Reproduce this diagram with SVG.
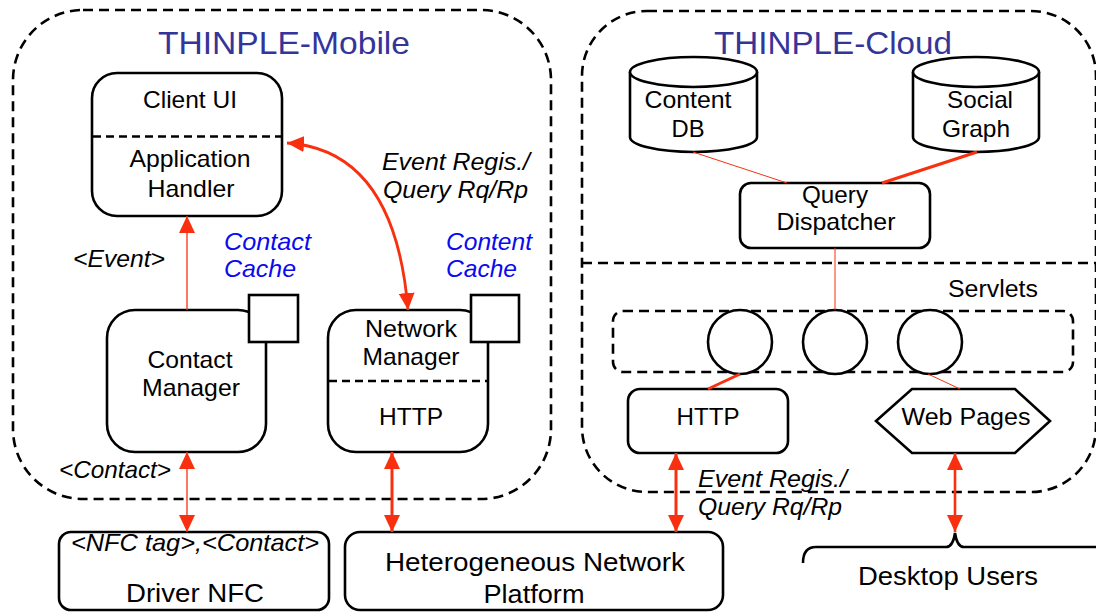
<svg xmlns="http://www.w3.org/2000/svg" width="1096" height="614" viewBox="0 0 1096 614">
<style>
text{font-family:"Liberation Sans",Arial,sans-serif;fill:#000}
.t{font-size:24px;text-anchor:middle}
.b{font-size:26px;text-anchor:middle}
.i{font-size:24px;font-style:italic}
.c{font-size:24px;font-style:italic;fill:#0a0aee}
.title{font-size:32px;fill:#353599}
.box{fill:#fff;stroke:#000;stroke-width:2.6}
.cont{fill:none;stroke:#000;stroke-width:2.6;stroke-dasharray:10 6}
.div{fill:none;stroke:#000;stroke-width:2.6;stroke-dasharray:8 5}
.r{fill:none;stroke:#f8300f}
</style>
<defs>
<marker id="ah" markerUnits="userSpaceOnUse" markerWidth="17" markerHeight="16" refX="17" refY="8" orient="auto-start-reverse" viewBox="0 0 17 16">
<path d="M0,0 L17,8 L0,16 z" fill="#f8300f"/>
</marker>
</defs>

<g id="containers">
<rect class="cont" x="13" y="10" width="538" height="489" rx="70"/>
<rect class="cont" x="582" y="11" width="514" height="481" rx="65"/>
<line class="cont" x1="582" y1="263" x2="1096" y2="263"/>
<text class="title" x="158" y="54" textLength="252" lengthAdjust="spacingAndGlyphs">THINPLE-Mobile</text>
<text class="title" x="714" y="54" textLength="238" lengthAdjust="spacingAndGlyphs">THINPLE-Cloud</text>
</g>

<g id="client-ui">
<rect class="box" x="92" y="73" width="190" height="143" rx="25"/>
<line class="div" x1="93" y1="136.5" x2="281" y2="136.5"/>
<text class="t" x="190" y="108" textLength="94" lengthAdjust="spacingAndGlyphs">Client UI</text>
<text class="t" x="190" y="167" textLength="121" lengthAdjust="spacingAndGlyphs">Application</text>
<text class="t" x="191" y="197" textLength="87" lengthAdjust="spacingAndGlyphs">Handler</text>
</g>

<g id="contact-manager">
<rect class="box" x="107" y="310" width="159" height="142" rx="28"/>
<rect class="box" x="249" y="295" width="49" height="47"/>
<text class="t" x="190" y="368" textLength="85" lengthAdjust="spacingAndGlyphs">Contact</text>
<text class="t" x="191" y="396" textLength="98" lengthAdjust="spacingAndGlyphs">Manager</text>
</g>

<g id="network-manager">
<rect class="box" x="328" y="310" width="160" height="142" rx="28"/>
<rect class="box" x="471" y="295" width="48" height="47"/>
<line class="div" x1="329" y1="381" x2="487" y2="381"/>
<text class="t" x="411" y="337" textLength="92" lengthAdjust="spacingAndGlyphs">Network</text>
<text class="t" x="411" y="365" textLength="97" lengthAdjust="spacingAndGlyphs">Manager</text>
<text class="t" x="411" y="425" textLength="64" lengthAdjust="spacingAndGlyphs">HTTP</text>
</g>

<g id="labels-mobile">
<text class="c" x="224" y="250" textLength="87" lengthAdjust="spacingAndGlyphs">Contact</text>
<text class="c" x="224" y="277" textLength="72" lengthAdjust="spacingAndGlyphs">Cache</text>
<text class="c" x="446" y="250" textLength="86" lengthAdjust="spacingAndGlyphs">Content</text>
<text class="c" x="446" y="277" textLength="71" lengthAdjust="spacingAndGlyphs">Cache</text>
<text class="i" x="73" y="267" textLength="92" lengthAdjust="spacingAndGlyphs">&lt;Event&gt;</text>
<text class="i" x="382" y="170" textLength="148" lengthAdjust="spacingAndGlyphs">Event Regis./</text>
<text class="i" x="383" y="198" textLength="145" lengthAdjust="spacingAndGlyphs">Query Rq/Rp</text>
<text class="i" x="59" y="478" textLength="112" lengthAdjust="spacingAndGlyphs">&lt;Contact&gt;</text>
</g>

<g id="content-db">
<path class="box" d="M630,72 V137 A63.5,15 0 0 0 757,137 V72"/>
<ellipse class="box" cx="693.5" cy="72" rx="63.5" ry="15"/>
<text class="t" x="688" y="108" textLength="87" lengthAdjust="spacingAndGlyphs">Content</text>
<text class="t" x="688" y="137" textLength="33" lengthAdjust="spacingAndGlyphs">DB</text>
</g>

<g id="social-graph">
<path class="box" d="M913,72 V137 A63,15 0 0 0 1039,137 V72"/>
<ellipse class="box" cx="976" cy="72" rx="63" ry="15"/>
<text class="t" x="980" y="108" textLength="66" lengthAdjust="spacingAndGlyphs">Social</text>
<text class="t" x="976" y="137" textLength="68" lengthAdjust="spacingAndGlyphs">Graph</text>
</g>

<g id="query-dispatcher">
<rect class="box" x="740" y="183" width="190" height="65" rx="11"/>
<text class="t" x="835" y="203" textLength="66" lengthAdjust="spacingAndGlyphs">Query</text>
<text class="t" x="836" y="230" textLength="119" lengthAdjust="spacingAndGlyphs">Dispatcher</text>
</g>

<g id="servlets">
<rect class="cont" x="613" y="311" width="460" height="61" rx="10"/>
<circle class="box" cx="740" cy="342" r="32"/>
<circle class="box" cx="835" cy="342" r="32"/>
<circle class="box" cx="930" cy="342" r="32"/>
<text x="948" y="297" font-size="23" textLength="90" lengthAdjust="spacingAndGlyphs">Servlets</text>
</g>

<g id="http-cloud">
<rect class="box" x="628" y="389" width="160" height="64" rx="12"/>
<text class="t" x="708" y="425" textLength="63" lengthAdjust="spacingAndGlyphs">HTTP</text>
</g>

<g id="web-pages">
<polygon class="box" points="876,421 912,389 1015,389 1050,421 1015,453 912,453"/>
<text class="t" x="966" y="425" textLength="129" lengthAdjust="spacingAndGlyphs">Web Pages</text>
</g>

<g id="driver-nfc">
<rect class="box" x="59" y="532" width="270" height="78" rx="12"/>
<text class="i" x="195" y="551" text-anchor="middle" textLength="248" lengthAdjust="spacingAndGlyphs">&lt;NFC tag&gt;,&lt;Contact&gt;</text>
<text class="b" x="195" y="602" textLength="138" lengthAdjust="spacingAndGlyphs">Driver NFC</text>
</g>

<g id="het-network">
<rect class="box" x="345" y="532" width="378" height="78" rx="15"/>
<text class="b" x="535" y="571" textLength="300" lengthAdjust="spacingAndGlyphs">Heterogeneous Network</text>
<text class="b" x="534" y="603" textLength="101" lengthAdjust="spacingAndGlyphs">Platform</text>
</g>

<g id="desktop-users">
<path d="M803,563 Q803,547 816,547 L946,547 Q953,547 955,533 Q957,547 964,547 L1100,547" fill="none" stroke="#000" stroke-width="2.6"/>
<text class="b" x="948" y="585" textLength="180" lengthAdjust="spacingAndGlyphs">Desktop Users</text>
</g>

<g id="labels-cloud">
<text class="i" x="698" y="487" textLength="149" lengthAdjust="spacingAndGlyphs">Event Regis./</text>
<text class="i" x="698" y="515" textLength="144" lengthAdjust="spacingAndGlyphs">Query Rq/Rp</text>
</g>

<g id="connectors">
<line class="r" x1="187" y1="310" x2="187" y2="216" stroke-width="1.3" marker-end="url(#ah)"/>
<path class="r" d="M287,143 Q395,150 408,310" stroke-width="2.8" marker-start="url(#ah)" marker-end="url(#ah)"/>
<line class="r" x1="187" y1="452" x2="187" y2="532" stroke-width="1.3" marker-start="url(#ah)" marker-end="url(#ah)"/>
<line class="r" x1="392" y1="452" x2="392" y2="532" stroke-width="3" marker-start="url(#ah)" marker-end="url(#ah)"/>
<line class="r" x1="676" y1="453" x2="676" y2="532" stroke-width="3" marker-start="url(#ah)" marker-end="url(#ah)"/>
<line class="r" x1="955" y1="453" x2="955" y2="532" stroke-width="2.6" marker-start="url(#ah)" marker-end="url(#ah)"/>
<line class="r" x1="693" y1="152" x2="787" y2="183" stroke-width="1"/>
<line class="r" x1="977" y1="152" x2="882" y2="183" stroke-width="3"/>
<line class="r" x1="835" y1="248" x2="835" y2="310" stroke-width="1"/>
<line class="r" x1="740" y1="374" x2="708" y2="389" stroke-width="3"/>
<line class="r" x1="928" y1="374" x2="960" y2="389" stroke-width="1"/>
</g>
</svg>
